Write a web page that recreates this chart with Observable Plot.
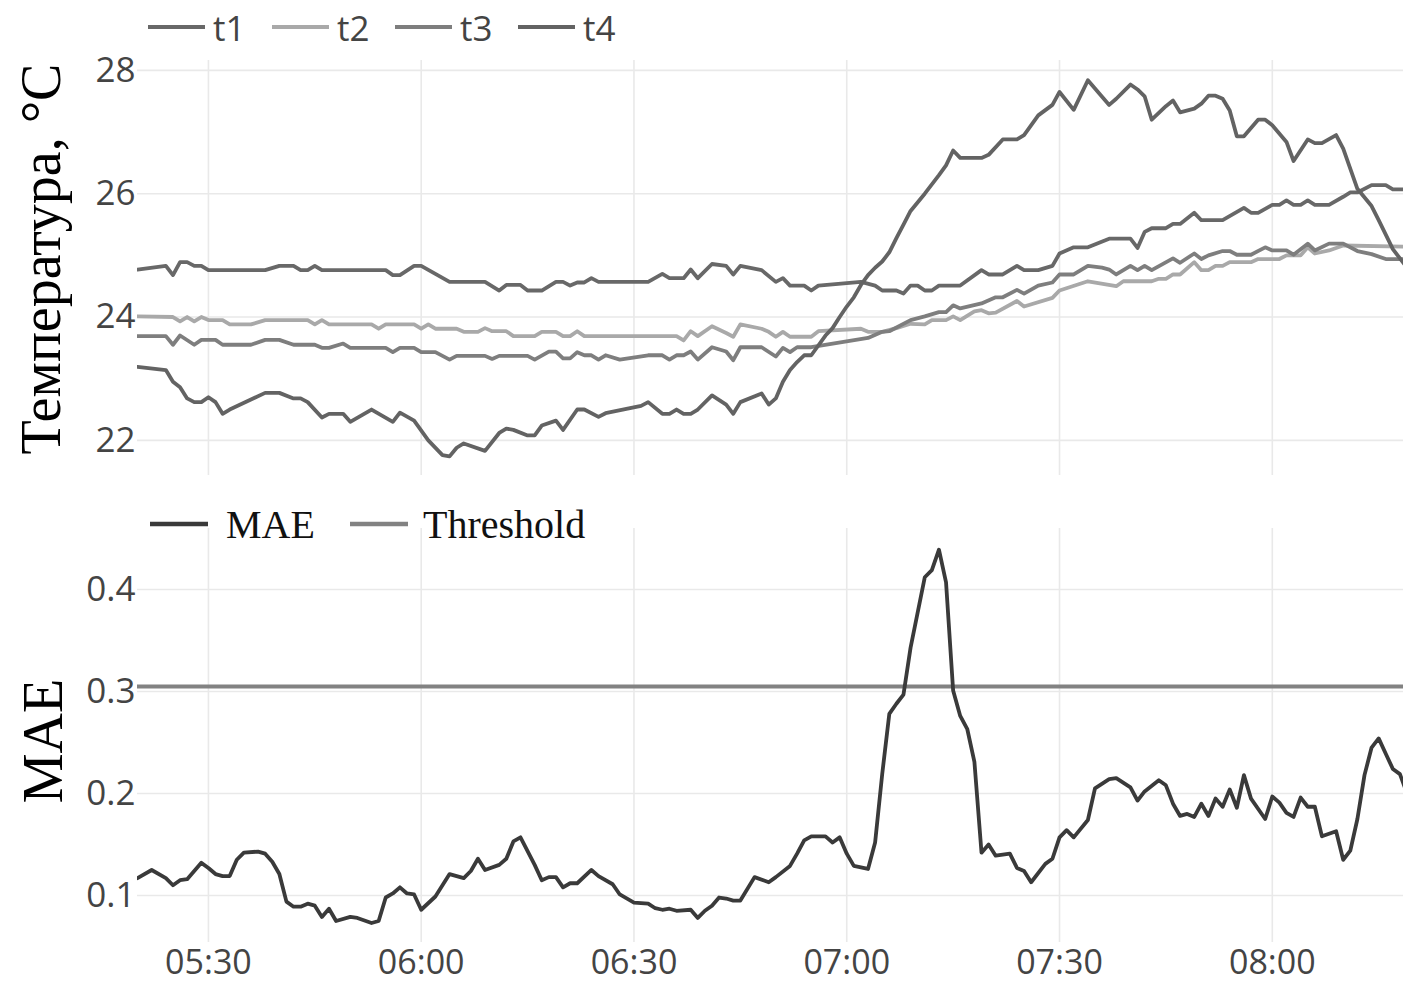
<!DOCTYPE html>
<html>
<head>
<meta charset="utf-8">
<script src="https://cdn.jsdelivr.net/npm/d3@7"></script>
<script src="https://cdn.jsdelivr.net/npm/@observablehq/plot@0.6"></script>
<style>
  html, body { margin: 0; padding: 0; background: #fff; }
  #wrap { position: relative; width: 1403px; height: 984px; overflow: hidden; }
</style>
</head>
<body>
<div id="wrap"></div>
<script>
// ---------- data ----------
const xTicks = ["05:30", "06:00", "06:30", "07:00", "07:30", "08:00"];
const xDomain = ["05:20:00", "08:18:30"];
const tempTicks = [22, 24, 26, 28];
const maeTicks = [0.1, 0.2, 0.3, 0.4];
const threshold = 0.305;

const t1 = [["05:20",24.77],["05:24",24.83],["05:25",24.68],["05:26",24.89],["05:27",24.89],["05:28",24.83],["05:29",24.83],["05:30",24.76],["05:38",24.76],["05:40",24.83],["05:42",24.83],["05:43",24.76],["05:44",24.76],["05:45",24.83],["05:46",24.76],["05:55",24.76],["05:56",24.68],["05:57",24.68],["05:59",24.83],["06:00",24.83],["06:02",24.70],["06:04",24.57],["06:09",24.57],["06:11",24.43],["06:12",24.52],["06:14",24.52],["06:15",24.43],["06:17",24.43],["06:19",24.57],["06:20",24.57],["06:21",24.51],["06:22",24.56],["06:23",24.56],["06:24",24.63],["06:25",24.57],["06:32",24.57],["06:34",24.70],["06:35",24.63],["06:37",24.63],["06:38",24.77],["06:39",24.63],["06:41",24.86],["06:43",24.83],["06:44",24.69],["06:45",24.83],["06:48",24.76],["06:50",24.57],["06:51",24.63],["06:52",24.51],["06:54",24.51],["06:55",24.43],["06:56",24.51],["07:02",24.57],["07:04",24.51],["07:05",24.43],["07:07",24.43],["07:08",24.38],["07:09",24.51],["07:10",24.51],["07:11",24.43],["07:12",24.43],["07:13",24.51],["07:16",24.51],["07:19",24.76],["07:20",24.69],["07:22",24.69],["07:24",24.83],["07:25",24.76],["07:27",24.76],["07:29",24.83],["07:30",25.03],["07:32",25.13],["07:34",25.13],["07:37",25.27],["07:40",25.27],["07:41",25.12],["07:42",25.38],["07:43",25.44],["07:45",25.44],["07:46",25.51],["07:47",25.51],["07:49",25.69],["07:50",25.57],["07:53",25.57],["07:56",25.77],["07:57",25.69],["07:58",25.69],["08:00",25.82],["08:01",25.82],["08:02",25.89],["08:03",25.82],["08:04",25.82],["08:05",25.89],["08:06",25.82],["08:08",25.82],["08:10",25.95],["08:11",26.02],["08:12",26.02],["08:14",26.14],["08:16",26.14],["08:17",26.07],["08:19",26.07]];

const t2 = [["05:20",24.01],["05:25",24.00],["05:26",23.93],["05:27",24.00],["05:28",23.93],["05:29",24.00],["05:30",23.95],["05:32",23.95],["05:33",23.88],["05:36",23.88],["05:38",23.95],["05:44",23.95],["05:45",23.88],["05:46",23.95],["05:47",23.88],["05:53",23.88],["05:54",23.81],["05:55",23.88],["05:59",23.88],["06:00",23.81],["06:01",23.88],["06:02",23.81],["06:05",23.81],["06:06",23.76],["06:08",23.76],["06:09",23.82],["06:10",23.77],["06:12",23.77],["06:13",23.69],["06:16",23.69],["06:17",23.76],["06:19",23.76],["06:20",23.69],["06:21",23.69],["06:22",23.77],["06:23",23.69],["06:36",23.69],["06:37",23.62],["06:38",23.77],["06:39",23.69],["06:41",23.85],["06:43",23.74],["06:44",23.68],["06:45",23.88],["06:48",23.81],["06:49",23.76],["06:50",23.68],["06:51",23.76],["06:52",23.68],["06:55",23.68],["06:56",23.77],["07:02",23.81],["07:03",23.76],["07:05",23.76],["07:07",23.82],["07:09",23.89],["07:11",23.88],["07:12",23.95],["07:14",23.95],["07:15",24.01],["07:16",23.95],["07:18",24.09],["07:19",24.11],["07:20",24.06],["07:21",24.07],["07:24",24.26],["07:25",24.17],["07:29",24.31],["07:30",24.43],["07:34",24.58],["07:38",24.50],["07:39",24.58],["07:43",24.58],["07:44",24.62],["07:45",24.62],["07:46",24.69],["07:47",24.69],["07:49",24.89],["07:50",24.76],["07:51",24.76],["07:52",24.83],["07:53",24.83],["07:54",24.89],["07:57",24.89],["07:58",24.94],["08:01",24.94],["08:02",25.00],["08:04",25.00],["08:05",25.13],["08:06",25.03],["08:08",25.08],["08:10",25.16],["08:19",25.14]];

const t3 = [["05:20",23.69],["05:24",23.69],["05:25",23.55],["05:26",23.70],["05:28",23.55],["05:29",23.63],["05:31",23.63],["05:32",23.55],["05:36",23.55],["05:38",23.63],["05:40",23.63],["05:42",23.55],["05:45",23.55],["05:46",23.50],["05:47",23.50],["05:49",23.57],["05:50",23.50],["05:55",23.50],["05:56",23.43],["05:57",23.50],["05:59",23.50],["06:00",23.43],["06:02",23.43],["06:04",23.31],["06:05",23.37],["06:09",23.37],["06:10",23.32],["06:11",23.37],["06:15",23.37],["06:16",23.31],["06:18",23.44],["06:19",23.44],["06:20",23.33],["06:21",23.33],["06:22",23.43],["06:23",23.38],["06:24",23.38],["06:25",23.31],["06:26",23.38],["06:28",23.31],["06:32",23.38],["06:34",23.38],["06:35",23.31],["06:36",23.38],["06:37",23.38],["06:38",23.44],["06:39",23.31],["06:41",23.51],["06:43",23.44],["06:44",23.30],["06:45",23.51],["06:48",23.51],["06:50",23.36],["06:51",23.50],["06:52",23.43],["06:53",23.51],["06:55",23.51],["07:03",23.66],["07:05",23.76],["07:06",23.77],["07:09",23.95],["07:11",24.01],["07:13",24.08],["07:14",24.08],["07:15",24.19],["07:16",24.14],["07:19",24.22],["07:21",24.32],["07:22",24.32],["07:24",24.44],["07:25",24.38],["07:27",24.51],["07:29",24.56],["07:30",24.69],["07:32",24.69],["07:34",24.83],["07:36",24.80],["07:37",24.77],["07:38",24.69],["07:40",24.83],["07:41",24.76],["07:42",24.83],["07:43",24.76],["07:46",24.95],["07:47",24.88],["07:49",25.03],["07:50",24.94],["07:51",25.00],["07:53",25.07],["07:54",25.07],["07:55",25.01],["07:57",25.01],["07:59",25.13],["08:00",25.08],["08:02",25.08],["08:03",25.01],["08:05",25.19],["08:06",25.08],["08:08",25.19],["08:10",25.19],["08:12",25.07],["08:14",25.02],["08:16",24.94],["08:19",24.94]];

const t4 = [["05:20",23.19],["05:24",23.14],["05:25",22.95],["05:26",22.86],["05:27",22.68],["05:28",22.62],["05:29",22.62],["05:30",22.70],["05:31",22.62],["05:32",22.43],["05:33",22.50],["05:38",22.77],["05:40",22.77],["05:42",22.68],["05:43",22.68],["05:44",22.62],["05:46",22.37],["05:47",22.43],["05:49",22.43],["05:50",22.30],["05:53",22.50],["05:56",22.30],["05:57",22.45],["05:59",22.32],["06:01",22.00],["06:03",21.76],["06:04",21.74],["06:05",21.88],["06:06",21.95],["06:09",21.83],["06:11",22.12],["06:12",22.19],["06:13",22.17],["06:15",22.08],["06:16",22.08],["06:17",22.24],["06:19",22.32],["06:20",22.17],["06:22",22.50],["06:23",22.50],["06:25",22.38],["06:26",22.44],["06:31",22.56],["06:32",22.62],["06:34",22.43],["06:35",22.43],["06:36",22.50],["06:37",22.43],["06:38",22.43],["06:39",22.50],["06:41",22.73],["06:43",22.58],["06:44",22.43],["06:45",22.62],["06:48",22.76],["06:49",22.58],["06:50",22.68],["06:51",22.95],["06:52",23.14],["06:53",23.27],["06:54",23.38],["06:55",23.38],["06:57",23.70],["06:58",23.82],["06:59",24.00],["07:00",24.17],["07:01",24.32],["07:02",24.52],["07:03",24.68],["07:04",24.80],["07:05",24.90],["07:06",25.05],["07:07",25.28],["07:08",25.50],["07:09",25.72],["07:11",26.00],["07:13",26.30],["07:14",26.46],["07:15",26.70],["07:16",26.58],["07:19",26.58],["07:20",26.63],["07:22",26.88],["07:24",26.88],["07:25",26.95],["07:27",27.27],["07:29",27.44],["07:30",27.65],["07:32",27.36],["07:34",27.84],["07:37",27.44],["07:38",27.54],["07:40",27.77],["07:41",27.69],["07:42",27.58],["07:43",27.20],["07:45",27.42],["07:46",27.51],["07:47",27.32],["07:49",27.38],["07:50",27.46],["07:51",27.59],["07:52",27.59],["07:53",27.54],["07:54",27.35],["07:55",26.93],["07:56",26.93],["07:58",27.20],["07:59",27.20],["08:00",27.11],["08:02",26.84],["08:03",26.53],["08:05",26.88],["08:06",26.82],["08:07",26.82],["08:09",26.95],["08:10",26.73],["08:12",26.08],["08:14",25.80],["08:15",25.57],["08:17",25.10],["08:18",24.95],["08:19",24.80]];

const mae = [["05:20",0.117],["05:22",0.125],["05:24",0.117],["05:25",0.110],["05:26",0.115],["05:27",0.116],["05:29",0.132],["05:30",0.127],["05:31",0.121],["05:32",0.119],["05:33",0.119],["05:34",0.135],["05:35",0.142],["05:37",0.143],["05:38",0.141],["05:39",0.133],["05:40",0.121],["05:41",0.094],["05:42",0.089],["05:43",0.089],["05:44",0.092],["05:45",0.090],["05:46",0.079],["05:47",0.087],["05:48",0.075],["05:50",0.079],["05:51",0.078],["05:53",0.073],["05:54",0.075],["05:55",0.098],["05:56",0.102],["05:57",0.108],["05:58",0.102],["05:59",0.101],["06:00",0.086],["06:02",0.099],["06:04",0.121],["06:06",0.117],["06:07",0.124],["06:08",0.136],["06:09",0.125],["06:11",0.130],["06:12",0.136],["06:13",0.153],["06:14",0.157],["06:16",0.130],["06:17",0.115],["06:18",0.118],["06:19",0.118],["06:20",0.108],["06:21",0.112],["06:22",0.112],["06:24",0.125],["06:25",0.119],["06:27",0.111],["06:28",0.101],["06:30",0.093],["06:32",0.092],["06:33",0.0875],["06:34",0.086],["06:35",0.087],["06:36",0.085],["06:38",0.086],["06:39",0.078],["06:40",0.085],["06:41",0.090],["06:42",0.098],["06:43",0.097],["06:44",0.095],["06:45",0.095],["06:47",0.118],["06:49",0.113],["06:50",0.118],["06:52",0.129],["06:53",0.141],["06:54",0.154],["06:55",0.158],["06:57",0.158],["06:58",0.152],["06:59",0.157],["07:00",0.141],["07:01",0.129],["07:03",0.126],["07:04",0.152],["07:05",0.219],["07:06",0.278],["07:07",0.288],["07:08",0.297],["07:09",0.343],["07:11",0.412],["07:12",0.419],["07:13",0.439],["07:14",0.407],["07:15",0.301],["07:16",0.276],["07:17",0.263],["07:18",0.231],["07:19",0.142],["07:20",0.150],["07:21",0.139],["07:23",0.141],["07:24",0.127],["07:25",0.124],["07:26",0.113],["07:28",0.131],["07:29",0.136],["07:30",0.157],["07:31",0.164],["07:32",0.157],["07:34",0.174],["07:35",0.205],["07:37",0.214],["07:38",0.215],["07:40",0.206],["07:41",0.193],["07:42",0.202],["07:44",0.213],["07:45",0.208],["07:46",0.190],["07:47",0.178],["07:48",0.180],["07:49",0.177],["07:50",0.190],["07:51",0.178],["07:52",0.195],["07:53",0.187],["07:54",0.204],["07:55",0.186],["07:56",0.218],["07:57",0.195],["07:59",0.175],["08:00",0.197],["08:01",0.191],["08:02",0.181],["08:03",0.177],["08:04",0.196],["08:05",0.187],["08:06",0.187],["08:07",0.158],["08:09",0.163],["08:10",0.135],["08:11",0.144],["08:12",0.175],["08:13",0.218],["08:14",0.245],["08:15",0.254],["08:16",0.239],["08:17",0.224],["08:18",0.219],["08:19",0.200]];

const tempSeries = ["t1", "t2", "t3", "t4"];
const tempColors = ["#686868", "#a9a9a9", "#7e7e7e", "#636363"];
const maeSeries = ["MAE", "Threshold"];
const maeColors = ["#3a3a3a", "#828282"];

// ---------- helpers ----------
const parseHM = d3.timeParse("%H:%M");
const parseHMS = d3.timeParse("%H:%M:%S");
const xDom = xDomain.map(parseHMS);
const xTickDates = xTicks.map(parseHM);
const tickFont = {fontFamily: "'Open Sans', sans-serif", fontSize: "35px", color: "#444", background: "transparent", overflow: "visible"};
const gridStyle = {stroke: "#e9e9e9", strokeOpacity: 1, strokeWidth: 1.6};

const wrap = document.getElementById("wrap");

// ---------- top panel ----------
const tempData = [t1, t2, t3, t4];
const topPlot = Plot.plot({
  width: 1403, height: 440,
  marginLeft: 137, marginRight: 0, marginTop: 5, marginBottom: 20,
  style: tickFont,
  x: {type: "time", domain: xDom, axis: null},
  y: {domain: [21.43, 28.16], axis: null},
  marks: [
    Plot.gridX(xTickDates, gridStyle),
    Plot.gridY(tempTicks, gridStyle),
    ...tempData.map((s, i) => Plot.line(s, {
      x: d => parseHM(d[0]), y: d => d[1],
      stroke: tempColors[i], strokeWidth: 3.8, clip: true
    })),
    Plot.axisY(tempTicks, {tickSize: 0, tickPadding: 2, label: null, tickFormat: d => String(d)})
  ]
});
topPlot.style.position = "absolute";
topPlot.style.top = "55px";
topPlot.style.left = "0px";
wrap.appendChild(topPlot);

// ---------- bottom panel ----------
const bottomPlot = Plot.plot({
  width: 1403, height: 464,
  marginLeft: 137, marginRight: 0, marginTop: 8, marginBottom: 42,
  style: tickFont,
  x: {type: "time", domain: xDom},
  y: {domain: [0.0539, 0.4598]},
  marks: [
    Plot.gridX(xTickDates, gridStyle),
    Plot.gridY(maeTicks, gridStyle),
    Plot.ruleY([threshold], {stroke: maeColors[1], strokeWidth: 4}),
    Plot.line(mae, {x: d => parseHM(d[0]), y: d => d[1], stroke: maeColors[0], strokeWidth: 3.8, clip: true}),
    Plot.axisY(maeTicks, {tickSize: 0, tickPadding: 2, label: null, tickFormat: d3.format(".1f")}),
    Plot.axisX(xTickDates, {tickSize: 0, tickPadding: 7, fontSize: 34, label: null, tickFormat: d3.timeFormat("%H:%M")})
  ]
});
bottomPlot.style.position = "absolute";
bottomPlot.style.top = "520px";
bottomPlot.style.left = "0px";
wrap.appendChild(bottomPlot);

// ---------- legends and titles (overlay) ----------
const ns = "http://www.w3.org/2000/svg";
const ov = document.createElementNS(ns, "svg");
ov.setAttribute("width", 1403);
ov.setAttribute("height", 984);
ov.style.position = "absolute";
ov.style.top = "0px";
ov.style.left = "0px";
ov.style.pointerEvents = "none";
wrap.appendChild(ov);

function el(tag, attrs, text) {
  const e = document.createElementNS(ns, tag);
  for (const k in attrs) e.setAttribute(k, attrs[k]);
  if (text != null) e.textContent = text;
  ov.appendChild(e);
  return e;
}

// top legend
const topLegX = [148, 272, 395, 518];
tempSeries.forEach((name, i) => {
  const x0 = topLegX[i];
  el("line", {x1: x0, x2: x0 + 57, y1: 27, y2: 27, stroke: tempColors[i], "stroke-width": 4});
  el("text", {x: x0 + 65, y: 27, "dominant-baseline": "central", "font-family": "'Open Sans', sans-serif", "font-size": 35, fill: "#444"}, name);
});

// bottom legend
const botLegX = [150, 350];
const botTextX = [226, 423];
maeSeries.forEach((name, i) => {
  const x0 = botLegX[i];
  el("line", {x1: x0, x2: x0 + 58, y1: 524, y2: 524, stroke: maeColors[i], "stroke-width": 4.5});
  el("text", {x: botTextX[i], y: 524, "dominant-baseline": "central", "font-family": "'Liberation Serif', serif", "font-size": 40, fill: "#111"}, name);
});

// y titles
el("text", {x: 0, y: 0, transform: "translate(41,259) rotate(-90)", "text-anchor": "middle", "dominant-baseline": "central", "font-family": "'Liberation Serif', serif", "font-size": 56, fill: "#000"}, "Температура, °C");
el("text", {x: 0, y: 0, transform: "translate(43,741) rotate(-90)", "text-anchor": "middle", "dominant-baseline": "central", "font-family": "'Liberation Serif', serif", "font-size": 56, fill: "#000"}, "MAE");
</script>
</body>
</html>
